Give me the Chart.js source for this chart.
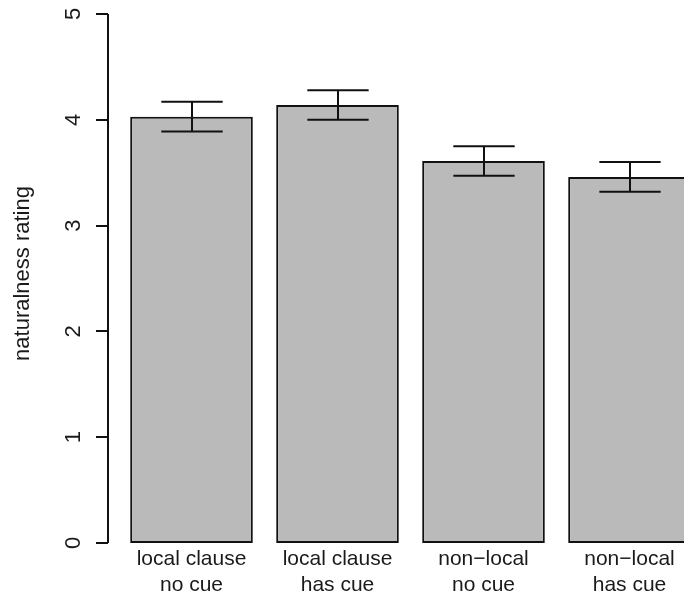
<!DOCTYPE html>
<html>
<head>
<meta charset="utf-8">
<script src="https://cdn.jsdelivr.net/npm/chart.js@4"></script>
<style>
  html, body { margin: 0; padding: 0; background: #fff; overflow: hidden; }
  #wrap { width: 684px; height: 599px; overflow: hidden; position: relative; }
  #box { width: 720px; height: 599px; position: absolute; left: 0; top: 0; }
</style>
</head>
<body>
<div id="wrap"><div id="box"><canvas id="c"></canvas></div></div>
<script>
// bar means and error bar ends
const categories = [['local clause', 'no cue'], ['local clause', 'has cue'], ['non\u2212local', 'no cue'], ['non\u2212local', 'has cue']];
const ratings = [4.03, 4.14, 3.61, 3.46];
const errLow = [3.89, 4.00, 3.47, 3.32];
const errHigh = [4.17, 4.28, 3.75, 3.60];
const yTicks = [0, 1, 2, 3, 4, 5];
const yTitle = 'naturalness rating';

const FONT = '"Liberation Sans", Arial, Helvetica, sans-serif';

// R-style decorations: left axis with rotated labels, two-line category names, error bars
const rStyle = {
  id: 'rStyle',
  afterDatasetsDraw(chart) {
    const ctx = chart.ctx;
    const x = chart.scales.x;
    const y = chart.scales.y;
    const area = chart.chartArea;
    const meta = chart.getDatasetMeta(0);

    ctx.save();
    ctx.strokeStyle = '#111';
    ctx.fillStyle = '#1a1a1a';
    ctx.lineWidth = 2;

    // error bars
    meta.data.forEach((bar, i) => {
      const cx = Math.round(bar.x);
      const half = bar.width / 4;
      const yl = y.getPixelForValue(errLow[i]);
      const yh = y.getPixelForValue(errHigh[i]);
      ctx.beginPath();
      ctx.moveTo(cx, yl); ctx.lineTo(cx, yh);
      ctx.moveTo(cx - half, yl); ctx.lineTo(cx + half, yl);
      ctx.moveTo(cx - half, yh); ctx.lineTo(cx + half, yh);
      ctx.stroke();
    });

    // y axis
    const axX = 108;
    ctx.beginPath();
    ctx.moveTo(axX, y.getPixelForValue(yTicks[0]));
    ctx.lineTo(axX, y.getPixelForValue(yTicks[yTicks.length - 1]));
    yTicks.forEach(t => {
      const py = Math.round(y.getPixelForValue(t));
      ctx.moveTo(axX, py); ctx.lineTo(axX - 12, py);
    });
    ctx.stroke();

    ctx.font = '22px ' + FONT;
    ctx.textAlign = 'center';
    ctx.textBaseline = 'middle';
    yTicks.forEach(t => {
      ctx.save();
      ctx.translate(74, y.getPixelForValue(t));
      ctx.rotate(-Math.PI / 2);
      ctx.fillText(String(t), 0, 0);
      ctx.restore();
    });

    // y title
    ctx.save();
    ctx.translate(23, (area.top + area.bottom) / 2 - 5);
    ctx.rotate(-Math.PI / 2);
    ctx.fillText(yTitle, 0, 0);
    ctx.restore();

    // category labels
    ctx.font = '21px ' + FONT;
    ctx.textBaseline = 'alphabetic';
    categories.forEach((lines, i) => {
      const cx = x.getPixelForValue(i);
      lines.forEach((s, j) => ctx.fillText(s, cx, 565 + j * 26));
    });
    ctx.restore();
  }
};

new Chart(document.getElementById('c'), {
  type: 'bar',
  data: {
    labels: categories.map(l => l.join(' ')),
    datasets: [{
      data: ratings,
      backgroundColor: '#bababa',
      borderColor: '#111',
      borderWidth: 2,
      borderSkipped: false,
      categoryPercentage: 1,
      barPercentage: 0.84
    }]
  },
  options: {
    responsive: true,
    maintainAspectRatio: false,
    animation: false,
    layout: { padding: { left: 118.5, right: 17.5, top: 14, bottom: 56 } },
    plugins: { legend: { display: false }, tooltip: { enabled: false } },
    scales: {
      x: { display: false },
      y: { display: false, min: 0, max: 5 }
    }
  },
  plugins: [rStyle]
});
</script>
</body>
</html>
